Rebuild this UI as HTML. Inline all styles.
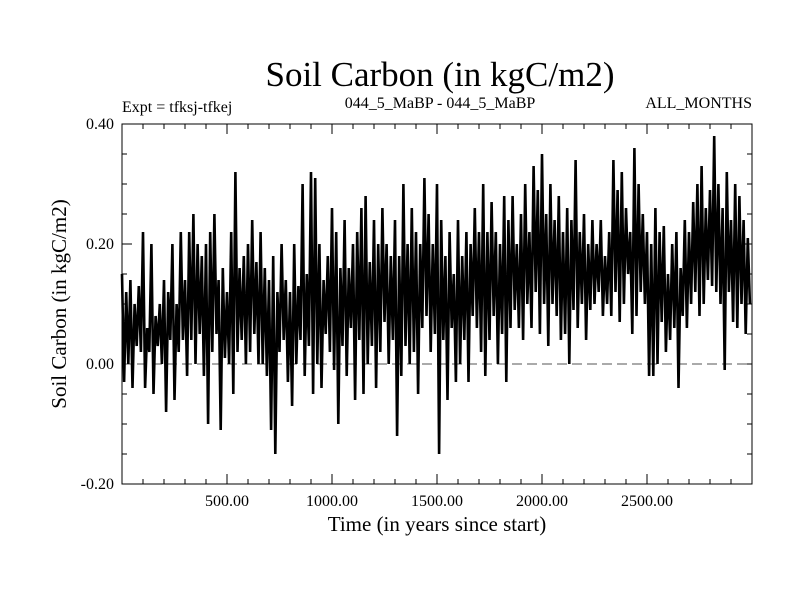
<!DOCTYPE html>
<html><head><meta charset="utf-8"><style>
body{margin:0;background:#fff;}
svg{display:block;font-family:"Liberation Serif",serif;}
</style></head><body>
<svg id="chart" width="800" height="600" xmlns="http://www.w3.org/2000/svg">
<rect width="800" height="600" fill="#fff"/>
<text x="440" y="86" font-size="35" text-anchor="middle">Soil Carbon (in kgC/m2)</text>
<text x="122" y="112" font-size="16">Expt = tfksj-tfkej</text>
<text x="440" y="108" font-size="16" text-anchor="middle">044_5_MaBP - 044_5_MaBP</text>
<text x="752" y="108" font-size="16" text-anchor="end">ALL_MONTHS</text>
<text x="437" y="531" font-size="21" text-anchor="middle">Time (in years since start)</text>
<text transform="translate(66,304) rotate(-90)" font-size="21" text-anchor="middle">Soil Carbon (in kgC/m2)</text>
<g id="axes"></g>
<g id="series"></g>
<rect x="122" y="124" width="630" height="360" fill="none" stroke="#000" stroke-width="1"/>
</svg>
<script>
const years0 = 0, yearStep = 10;
const values = [
0.15,-0.03,0.12,0.0,0.14,-0.04,0.1,0.03,0.13,0.02,
0.22,-0.04,0.06,0.02,0.2,-0.05,0.08,0.03,0.1,0.0,
0.14,-0.08,0.12,0.04,0.2,-0.06,0.1,0.02,0.22,0.04,
0.14,-0.02,0.22,0.04,0.25,0.0,0.2,0.05,0.18,-0.02,
0.2,-0.1,0.22,0.02,0.25,0.05,0.14,-0.11,0.16,0.01,
0.12,0.0,0.22,-0.05,0.32,0.02,0.16,0.04,0.18,0.0,
0.2,0.02,0.24,0.05,0.17,0.0,0.22,0.0,0.16,-0.02,
0.14,-0.11,0.18,-0.15,0.12,0.02,0.2,0.04,0.14,-0.03,
0.12,-0.07,0.2,0.0,0.13,0.04,0.3,-0.02,0.15,0.03,
0.32,-0.05,0.31,0.0,0.2,-0.04,0.14,0.05,0.18,0.02,
0.26,-0.01,0.22,-0.1,0.16,0.03,0.24,-0.02,0.16,0.06,
0.2,-0.06,0.22,0.04,0.26,-0.05,0.28,0.0,0.17,0.03,
0.24,-0.04,0.2,0.02,0.26,0.07,0.2,0.0,0.18,0.04,
0.24,-0.12,0.18,-0.02,0.3,0.03,0.2,0.0,0.26,0.02,
0.22,-0.05,0.2,0.06,0.31,0.08,0.25,0.02,0.2,0.05,
0.3,-0.15,0.24,0.04,0.18,-0.06,0.22,0.06,0.15,-0.03,
0.24,0.0,0.18,0.04,0.22,-0.03,0.2,0.08,0.26,0.06,
0.22,0.02,0.3,-0.02,0.22,0.04,0.27,0.08,0.22,0.0,
0.2,0.05,0.28,-0.03,0.24,0.06,0.28,0.09,0.2,0.06,
0.25,0.04,0.3,0.1,0.22,0.06,0.33,0.12,0.29,0.05,
0.35,0.1,0.25,0.03,0.3,0.1,0.24,0.08,0.28,0.04,
0.22,0.05,0.26,0.0,0.24,0.09,0.34,0.06,0.22,0.1,
0.25,0.04,0.2,0.09,0.24,0.1,0.2,0.12,0.24,0.08,
0.18,0.1,0.22,0.08,0.34,0.12,0.29,0.07,0.32,0.1,
0.26,0.15,0.22,0.05,0.36,0.08,0.3,0.12,0.25,0.1,
0.22,-0.02,0.2,-0.02,0.26,0.0,0.22,0.07,0.23,0.02,
0.15,0.04,0.2,0.06,0.22,-0.04,0.16,0.08,0.24,0.06,
0.22,0.1,0.27,0.12,0.3,0.08,0.33,0.1,0.26,0.14,
0.29,0.13,0.38,0.12,0.3,0.1,0.26,-0.01,0.32,0.12,
0.24,0.07,0.3,0.06,0.28,0.1,0.24,0.05,0.21,0.1
];
const xTicks = [500,1000,1500,2000,2500];
const xTickLabels = ["500.00","1000.00","1500.00","2000.00","2500.00"];
const yTicks = [-0.2,0,0.2,0.4];
const yTickLabels = ["-0.20","0.00","0.20","0.40"];

const X0=122,X1=752,Y0=484,Y1=124,XMIN=0,XMAX=3000,YMIN=-0.2,YMAX=0.4;
function xs(v){return X0+(v-XMIN)/(XMAX-XMIN)*(X1-X0);}
function ys(v){return Y0-(v-YMIN)/(YMAX-YMIN)*(Y0-Y1);}
const NS="http://www.w3.org/2000/svg";
const axes=document.getElementById('axes');
function mk(tag,attrs,parent){const e=document.createElementNS(NS,tag);for(const k in attrs)e.setAttribute(k,attrs[k]);parent.appendChild(e);return e;}

for(let t=100;t<3000;t+=100){
  const big=t%500===0, L=big?10:5;
  const a=mk('line',{x1:xs(t),x2:xs(t),y1:Y0,y2:Y0-L,stroke:'#000'},axes);
  
  
  const b=mk('line',{x1:xs(t),x2:xs(t),y1:Y1,y2:Y1+L,stroke:'#000'},axes);
  
  
}
for(let i=0;i<=12;i++){
  const v=YMIN+i*0.05, big=i%4===0, L=big?10:5;
  const a=mk('line',{x1:X0,x2:X0+L,y1:ys(v),y2:ys(v),stroke:'#000'},axes);
  
  
  const b=mk('line',{x1:X1,x2:X1-L,y1:ys(v),y2:ys(v),stroke:'#000'},axes);
  
  
}
xTicks.forEach((t,i)=>{
  const e=mk('text',{x:xs(t),y:Y0+22,'font-size':16,'text-anchor':'middle'},axes);
  e.textContent=xTickLabels[i];
  
  
});
yTicks.forEach((t,i)=>{
  const e=mk('text',{x:X0-8,y:ys(t)+5,'font-size':16,'text-anchor':'end'},axes);
  e.textContent=yTickLabels[i];
  
  
});
const zl=mk('line',{x1:X0,x2:X1,y1:ys(0),y2:ys(0),stroke:'#777','stroke-width':1.2,'stroke-dasharray':'10,5'},axes);



const pts=values.map((v,i)=>xs(years0+i*yearStep).toFixed(1)+','+ys(v).toFixed(1)).join(' ');
const pl=mk('polyline',{points:pts,fill:'none',stroke:'#000','stroke-width':2.6,'stroke-linejoin':'miter','stroke-miterlimit':2},document.getElementById('series'));


</script>
</body></html>
